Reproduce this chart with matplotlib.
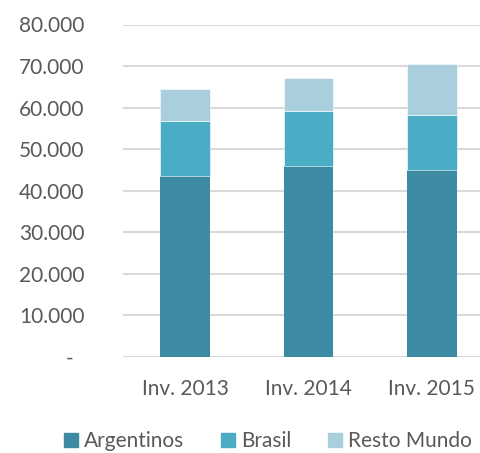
import matplotlib.pyplot as plt
from matplotlib.patches import Patch

categories = ['Inv. 2013', 'Inv. 2014', 'Inv. 2015']
argentinos = [43550, 45880, 44920]
brasil = [13250, 13390, 13230]
resto_mundo = [7760, 7860, 12350]
series_names = ['Argentinos', 'Brasil', 'Resto Mundo']
colors = ['#3C8BA3', '#4BACC6', '#A9CFDD']
yticks = [0, 10000, 20000, 30000, 40000, 50000, 60000, 70000, 80000]
yticklabels = ['-  ', '10.000', '20.000', '30.000', '40.000', '50.000',
               '60.000', '70.000', '80.000']

plt.rcParams['font.family'] = ['Lato', 'DejaVu Sans']
text_color = '#595959'

fig = plt.figure(figsize=(4.8, 4.53), dpi=100)
ax = fig.add_axes([123.3 / 480, 1 - 357 / 453, (480 - 123.3) / 480, (357 - 24.5) / 453])

x = range(len(categories))
w = 0.4
bottom2 = [a for a in argentinos]
bottom3 = [a + b for a, b in zip(argentinos, brasil)]
ax.bar(x, argentinos, w, color=colors[0], zorder=3)
ax.bar(x, brasil, w, bottom=bottom2, color=colors[1], zorder=3,
       edgecolor='#ffffff', linewidth=0.4)
ax.bar(x, resto_mundo, w, bottom=bottom3, color=colors[2], zorder=3,
       edgecolor='#ffffff', linewidth=0.4)

ax.set_xlim(-0.5, 2.39)
ax.set_ylim(0, 80000)
ax.set_yticks(yticks)
ax.set_yticklabels(yticklabels)
ax.set_xticks(list(x))
ax.set_xticklabels(categories)
ax.grid(axis='y', color='#D9D9D9', linewidth=1.5, zorder=0)
for s in ax.spines.values():
    s.set_visible(False)
ax.tick_params(length=0, labelsize=15, labelcolor=text_color)
ax.tick_params(axis='y', pad=28)
ax.tick_params(axis='x', pad=16)
for lbl in ax.get_yticklabels():
    lbl.set_horizontalalignment('right')

handles = [Patch(color=c, label=n) for c, n in zip(colors, series_names)]
fig.legend(handles=handles, loc='center', bbox_to_anchor=(268 / 480, 1 - 441 / 453),
           ncol=3, frameon=False, fontsize=15, labelcolor=text_color,
           handlelength=0.67, handleheight=0.67, handletextpad=0.3,
           columnspacing=1.75, borderpad=0)

fig.savefig('out.png', dpi=100)
